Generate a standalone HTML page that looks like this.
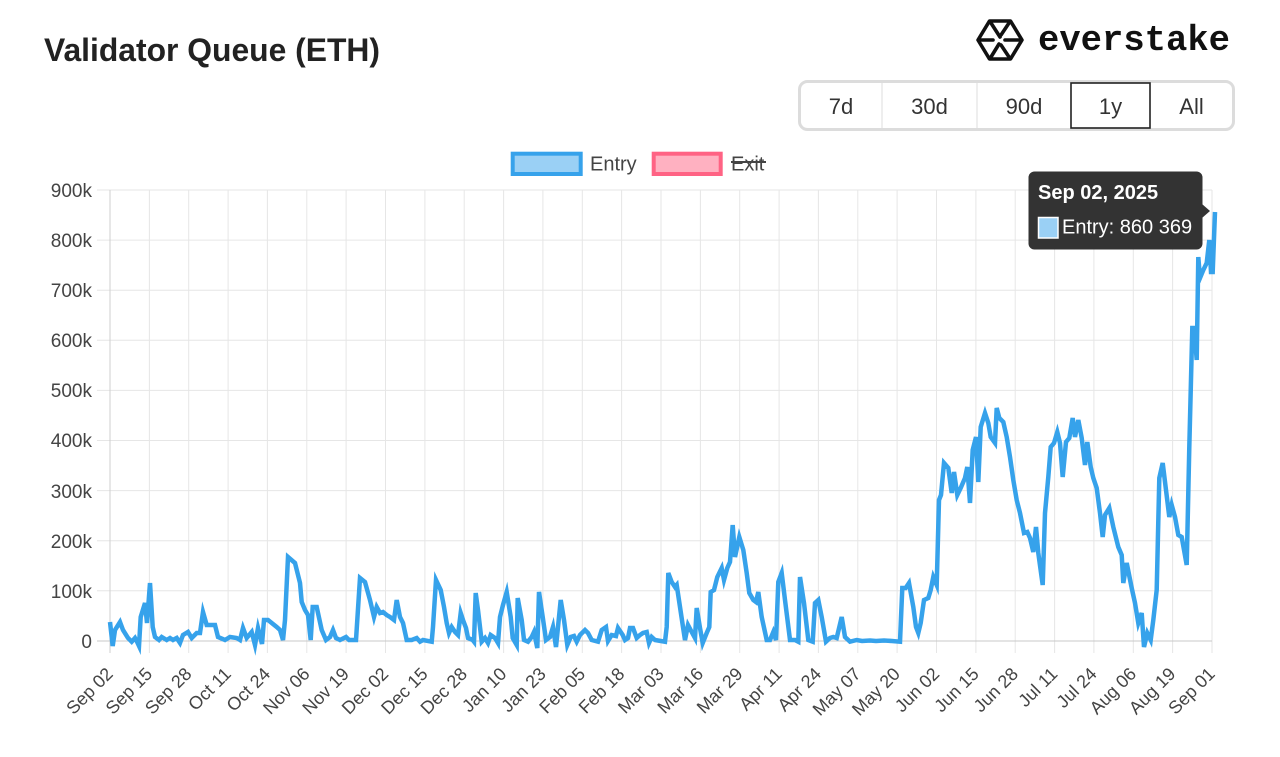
<!DOCTYPE html>
<html>
<head>
<meta charset="utf-8">
<style>
  html,body{margin:0;padding:0;background:#fff;}
  body{width:1280px;height:757px;overflow:hidden;}
  svg{display:block;}
  text{font-family:"Liberation Sans",Arial,sans-serif;}
</style>
</head>
<body>
<svg width="1280" height="757" viewBox="0 0 1280 757" xmlns="http://www.w3.org/2000/svg">
  <rect x="0" y="0" width="1280" height="757" fill="#fff"/>

  <!-- Title -->
  <text x="44" y="61" font-size="32" font-weight="bold" fill="#222" textLength="336" lengthAdjust="spacingAndGlyphs">Validator Queue (ETH)</text>

  <!-- Logo -->
  <g fill="none" stroke="#111" stroke-width="3.6" stroke-linejoin="round" stroke-linecap="round">
    <polygon points="978,40 989.5,21 1010.5,21 1022,40 1010.5,59 989.5,59"/>
    <polyline points="991,23 1000,37"/>
    <polyline points="1009,23 1001,35"/>
    <polyline points="980,40 993,40"/>
    <polyline points="1005,40 1020,40"/>
    <polyline points="991,57 999,44"/>
    <polyline points="1009,57 1001,45"/>
  </g>
  <text x="1038" y="50" font-size="36" font-weight="bold" fill="#111" textLength="192" lengthAdjust="spacingAndGlyphs" style="font-family:'Liberation Mono',monospace">everstake</text>

  <!-- Range buttons -->
  <rect x="799.5" y="81.5" width="434" height="48" rx="8" ry="8" fill="#fff" stroke="#dcdcdc" stroke-width="3"/>
  <line x1="882" y1="83" x2="882" y2="128" stroke="#e2e2e2" stroke-width="1.2"/>
  <line x1="977" y1="83" x2="977" y2="128" stroke="#e2e2e2" stroke-width="1.2"/>
  <rect x="1071" y="83" width="79" height="45" fill="#fff" stroke="#222" stroke-width="1.6"/>
  <g font-size="22" fill="#333" text-anchor="middle">
    <text x="841" y="114">7d</text>
    <text x="929.5" y="114">30d</text>
    <text x="1024" y="114">90d</text>
    <text x="1110.5" y="114">1y</text>
    <text x="1191.5" y="114">All</text>
  </g>

  <!-- Legend -->
  <rect x="512.7" y="153.7" width="68" height="20.3" fill="rgba(54,162,235,0.5)" stroke="#36A2EB" stroke-width="4"/>
  <text x="590" y="170.5" font-size="20" fill="#444">Entry</text>
  <rect x="653.7" y="153.7" width="67" height="20.3" fill="rgba(255,99,132,0.5)" stroke="#FF6384" stroke-width="4"/>
  <text x="731" y="170.5" font-size="20" fill="#444">Exit</text>
  <line x1="731" y1="162" x2="766" y2="162" stroke="#444" stroke-width="2"/>

  <!-- Grid -->
  <g stroke="#e6e6e6" stroke-width="1">
    <line x1="97" y1="190" x2="1212" y2="190"/>
    <line x1="97" y1="240.1" x2="1212" y2="240.1"/>
    <line x1="97" y1="290.2" x2="1212" y2="290.2"/>
    <line x1="97" y1="340.3" x2="1212" y2="340.3"/>
    <line x1="97" y1="390.4" x2="1212" y2="390.4"/>
    <line x1="97" y1="440.5" x2="1212" y2="440.5"/>
    <line x1="97" y1="490.6" x2="1212" y2="490.6"/>
    <line x1="97" y1="540.7" x2="1212" y2="540.7"/>
    <line x1="97" y1="590.8" x2="1212" y2="590.8"/>
  </g>
  <g stroke="#e6e6e6" stroke-width="1">
    <line x1="149.4" y1="190" x2="149.4" y2="653"/>
    <line x1="188.7" y1="190" x2="188.7" y2="653"/>
    <line x1="228.1" y1="190" x2="228.1" y2="653"/>
    <line x1="267.4" y1="190" x2="267.4" y2="653"/>
    <line x1="306.8" y1="190" x2="306.8" y2="653"/>
    <line x1="346.1" y1="190" x2="346.1" y2="653"/>
    <line x1="385.5" y1="190" x2="385.5" y2="653"/>
    <line x1="424.9" y1="190" x2="424.9" y2="653"/>
    <line x1="464.2" y1="190" x2="464.2" y2="653"/>
    <line x1="503.6" y1="190" x2="503.6" y2="653"/>
    <line x1="542.9" y1="190" x2="542.9" y2="653"/>
    <line x1="582.3" y1="190" x2="582.3" y2="653"/>
    <line x1="621.6" y1="190" x2="621.6" y2="653"/>
    <line x1="661.0" y1="190" x2="661.0" y2="653"/>
    <line x1="700.4" y1="190" x2="700.4" y2="653"/>
    <line x1="739.7" y1="190" x2="739.7" y2="653"/>
    <line x1="779.1" y1="190" x2="779.1" y2="653"/>
    <line x1="818.4" y1="190" x2="818.4" y2="653"/>
    <line x1="857.8" y1="190" x2="857.8" y2="653"/>
    <line x1="897.1" y1="190" x2="897.1" y2="653"/>
    <line x1="936.5" y1="190" x2="936.5" y2="653"/>
    <line x1="975.9" y1="190" x2="975.9" y2="653"/>
    <line x1="1015.2" y1="190" x2="1015.2" y2="653"/>
    <line x1="1054.6" y1="190" x2="1054.6" y2="653"/>
    <line x1="1093.9" y1="190" x2="1093.9" y2="653"/>
    <line x1="1133.3" y1="190" x2="1133.3" y2="653"/>
    <line x1="1172.6" y1="190" x2="1172.6" y2="653"/>
    <line x1="1212" y1="190" x2="1212" y2="653"/>
  </g>
  <line x1="110" y1="190" x2="110" y2="653" stroke="#cfcfcf" stroke-width="1"/>
  <line x1="97" y1="641" x2="1212" y2="641" stroke="#c8c8c8" stroke-width="1"/>

  <!-- Y labels -->
  <g font-size="19" fill="#444" text-anchor="end">
    <text x="92" y="197">900k</text>
    <text x="92" y="247">800k</text>
    <text x="92" y="297">700k</text>
    <text x="92" y="347">600k</text>
    <text x="92" y="397">500k</text>
    <text x="92" y="447">400k</text>
    <text x="92" y="498">300k</text>
    <text x="92" y="548">200k</text>
    <text x="92" y="598">100k</text>
    <text x="92" y="648">0</text>
  </g>

  <!-- X labels -->
  <g font-size="18" fill="#444" text-anchor="end">
    <text x="114.0" y="675" transform="rotate(-45 114.0 675)">Sep 02</text>
    <text x="153.4" y="675" transform="rotate(-45 153.4 675)">Sep 15</text>
    <text x="192.7" y="675" transform="rotate(-45 192.7 675)">Sep 28</text>
    <text x="232.1" y="675" transform="rotate(-45 232.1 675)">Oct 11</text>
    <text x="271.4" y="675" transform="rotate(-45 271.4 675)">Oct 24</text>
    <text x="310.8" y="675" transform="rotate(-45 310.8 675)">Nov 06</text>
    <text x="350.1" y="675" transform="rotate(-45 350.1 675)">Nov 19</text>
    <text x="389.5" y="675" transform="rotate(-45 389.5 675)">Dec 02</text>
    <text x="428.9" y="675" transform="rotate(-45 428.9 675)">Dec 15</text>
    <text x="468.2" y="675" transform="rotate(-45 468.2 675)">Dec 28</text>
    <text x="507.6" y="675" transform="rotate(-45 507.6 675)">Jan 10</text>
    <text x="546.9" y="675" transform="rotate(-45 546.9 675)">Jan 23</text>
    <text x="586.3" y="675" transform="rotate(-45 586.3 675)">Feb 05</text>
    <text x="625.6" y="675" transform="rotate(-45 625.6 675)">Feb 18</text>
    <text x="665.0" y="675" transform="rotate(-45 665.0 675)">Mar 03</text>
    <text x="704.4" y="675" transform="rotate(-45 704.4 675)">Mar 16</text>
    <text x="743.7" y="675" transform="rotate(-45 743.7 675)">Mar 29</text>
    <text x="783.1" y="675" transform="rotate(-45 783.1 675)">Apr 11</text>
    <text x="822.4" y="675" transform="rotate(-45 822.4 675)">Apr 24</text>
    <text x="861.8" y="675" transform="rotate(-45 861.8 675)">May 07</text>
    <text x="901.1" y="675" transform="rotate(-45 901.1 675)">May 20</text>
    <text x="940.5" y="675" transform="rotate(-45 940.5 675)">Jun 02</text>
    <text x="979.9" y="675" transform="rotate(-45 979.9 675)">Jun 15</text>
    <text x="1019.2" y="675" transform="rotate(-45 1019.2 675)">Jun 28</text>
    <text x="1058.6" y="675" transform="rotate(-45 1058.6 675)">Jul 11</text>
    <text x="1097.9" y="675" transform="rotate(-45 1097.9 675)">Jul 24</text>
    <text x="1137.3" y="675" transform="rotate(-45 1137.3 675)">Aug 06</text>
    <text x="1176.6" y="675" transform="rotate(-45 1176.6 675)">Aug 19</text>
    <text x="1216.0" y="675" transform="rotate(-45 1216.0 675)">Sep 01</text>
  </g>

  <!-- Entry series -->
  <polyline fill="none" stroke="#36A2EB" stroke-width="4.5" stroke-linejoin="miter" stroke-miterlimit="5" points="
110,622 112.7,646 115,630 120,622 123,630 128,638 131.7,641.7 135,638 137,641.7 139,646 140.7,617 145,603 147,623 150,583 152.7,627 155,637 159,640 161.7,637 166.7,640 170,638 173,640 176.7,638 180,643 183,635 188,632 191.7,638 196.7,633 200,633 203,612 206.7,625 215,625 218,637 225,640 230,637 236.7,638 240,640 243,628 246.7,638 251.7,632 255,645 258,628 262,644 264,620 268,620 276.7,627 280,630 283,640 285,620 288,557 295,563 300,583 301.7,602 305,610 308,615 310.7,640 312.7,607 316.7,607 321.7,630 326,640 330,637 333,630 336,638 340,640 346,637 349,640 356,640 360,578 365,582 370,600 374,617 376.7,607 380,613 383,612 386.7,615 390,617 394,620 396.7,600 400,617 403,623 406.7,640 411.7,640 416.7,638 420,641.7
423,640 431.7,641.7 433,627 436,580 440.7,590 444,607 446.7,623 449,633 451.7,627 455,632 458,635 460.7,613 463,620 466,628 468,638 472.7,640 474,641.7 475.7,593 478,610 481.7,641.7 485,638 488,643 490.7,635 495,638 498,643 500,617 503,605 506.7,592 510.7,617 512.7,638 516.7,645 517.7,598 521.7,620 524,640 528,641.7 531.7,637 534,632 537.3,648 539,592 542.7,617 546,640 550,637 553,627 556,647 560.7,600 564,620 567.3,645 570.7,637 574,636 576.7,641.7 580,635 585,630 588,633 591.7,640 598,641.7 601.7,630 606,627 608,641 611.7,635 616,636 618,628 622.7,635 625,640 628,638 630,628 633,628 636.7,638 640,635 643,633 646.7,632 649,643 651.7,637 655,640 665,641.7 666.7,627 668.3,573 671.7,582 675,587 676.7,585 680,607 683,627 685,640 688,625 691.7,632 695,638 696.7,608 700,628 702.7,643 706.7,633 709.3,627 710.7,592 714,590 717.3,577 721.7,568 724,580 727.3,568 730,562 732.7,525 735,557 739.3,537
743.3,550 746.7,573 749.3,593 753.3,600 756,602 758.3,592 761.7,617 766.7,640 770,640 773.3,632 776,640 778.3,582 781.7,573 785,600 790,640 795,640 798.3,641.7 800,577 804,603 808.3,640 812.7,641.7 815,603 818.3,600 821.7,617 826,641.7 830,638 833.3,637 836.7,638 841.7,617 845,637 850,641.7 856.7,640 862,641 870,640.5 876,641 884,640.5 892,641 900,641.7 902.3,588 905.7,588 909,583 913.3,607 916,627 918.3,633 920.7,623 924,600 928.3,598 930.7,590 933.3,577 936.7,585 939,500 941,495 944,463 948.3,468 951.7,493 954,472 957.3,495 960.7,488
965,478 967.3,467 970,503 972.7,450 976,437 978.3,482 980.7,427 985,413 988.3,423 990.7,437 995,443 996.7,408 999.3,418 1003.3,422 1006.7,437 1010,457 1013.3,480 1016.7,500 1020,513 1024,533 1027.3,532 1030,538 1033.3,552 1036,527 1038.3,553 1042.7,585 1045,513 1048.3,477 1050.7,447 1054,443 1057.3,432 1060,443 1062.7,477 1066,442 1069.3,438 1072.7,418 1075,437 1078.3,420 1081.7,438 1085,465 1087.3,442 1090.7,467 1093.3,478 1096.7,488 1100,513 1102.7,537 1105,515 1109.3,508 1113.3,527 1118.3,547 1121.7,555 1123.3,583 1126.7,563 1131.7,588 1135,603 1138.3,623 1141.7,613 1144,647 1147.3,633 1150.7,640 1153.3,620 1156.7,590 1159.3,478 1162.7,463 1166,490 1169.3,517 1171.7,505 1175,517 1178.3,535 1181.7,537 1186.7,565 1189.3,447 1192.3,328 1194.3,328 1196.7,360 1198.3,257 1200,278 1203.3,270 1206.7,263 1209.3,240 1211,272 1212.7,272 1215,212"/>

  <!-- Tooltip -->
  <rect x="1028.5" y="171.5" width="174" height="78" rx="6" ry="6" fill="#333"/>
  <polygon points="1202,204 1210,211 1202,218" fill="#333"/>
  <text x="1038" y="199" font-size="20" font-weight="bold" fill="#fff">Sep 02, 2025</text>
  <rect x="1038.5" y="217.5" width="19.5" height="20.5" fill="#9AD0F5" stroke="#fff" stroke-width="1.5"/>
  <text x="1062" y="233.5" font-size="20" fill="#fff">Entry: 860 369</text>
</svg>
</body>
</html>
